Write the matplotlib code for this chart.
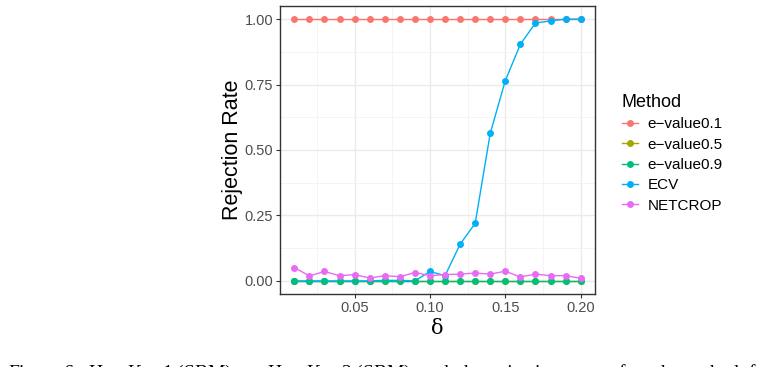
import matplotlib
matplotlib.use('Agg')
import matplotlib.pyplot as plt
from matplotlib.lines import Line2D
import numpy as np

plt.rcParams['font.family'] = ['Liberation Sans', 'DejaVu Sans']

delta = [0.01, 0.02, 0.03, 0.04, 0.05, 0.06, 0.07, 0.08, 0.09, 0.10,
         0.11, 0.12, 0.13, 0.14, 0.15, 0.16, 0.17, 0.18, 0.19, 0.20]
methods = ['e\u2212value0.1', 'e\u2212value0.5', 'e\u2212value0.9', 'ECV', 'NETCROP']
colors = ['#F8766D', '#A3A500', '#00BF7D', '#00B0F6', '#E76BF3']

evalue01 = [1.0] * 20
evalue05 = [0.0] * 20
evalue09 = [0.0] * 20
ecv = [0.0, 0.0, 0.0, 0.0, 0.0, 0.0, 0.002, 0.002, 0.0, 0.036,
       0.02, 0.14, 0.22, 0.564, 0.765, 0.904, 0.985, 0.993, 1.0, 1.0]
netcrop = [0.051, 0.019, 0.036, 0.02, 0.024, 0.011, 0.02, 0.016, 0.032, 0.02,
           0.024, 0.026, 0.03, 0.026, 0.037, 0.015, 0.026, 0.02, 0.02, 0.01]
series = [evalue01, evalue05, evalue09, ecv, netcrop]

fig = plt.figure(figsize=(7.71, 3.67), dpi=100)
ax = fig.add_axes([280 / 771, 1 - 294 / 367, 315 / 771, 288 / 367])

# lines first, then points (ggplot layer order)
for vals, c in zip(series, colors):
    ax.plot(delta, vals, color=c, lw=1.0, zorder=3)
pt_order = [0, 1, 3, 2, 4]
for i in pt_order:
    ax.plot(delta, series[i], 'o', color=colors[i], ms=5, mew=0, zorder=4)

ax.set_xlim(0.0005, 0.2095)
ax.set_ylim(-0.05, 1.05)
ax.set_xticks([0.05, 0.10, 0.15, 0.20])
ax.set_xticklabels(['0.05', '0.10', '0.15', '0.20'])
ax.set_yticks([0.0, 0.25, 0.5, 0.75, 1.0])
ax.set_yticklabels(['0.00', '0.25', '0.50', '0.75', '1.00'])
ax.set_xticks([0.025, 0.075, 0.125, 0.175], minor=True)
ax.set_yticks([0.125, 0.375, 0.625, 0.875], minor=True)

ax.grid(True, which='major', color='#EBEBEB', lw=1.0, zorder=0)
ax.grid(True, which='minor', color='#F2F2F2', lw=0.6, zorder=0)
ax.tick_params(which='major', length=3, width=0.8, color='#333333',
               labelsize=10.5, labelcolor='#4D4D4D', pad=2)
ax.tick_params(which='minor', length=0)
for s in ax.spines.values():
    s.set_color('#333333')
    s.set_linewidth(1.0)

ax.set_ylabel('Rejection Rate', fontsize=15.5, labelpad=1)
ax.set_xlabel('\u03b4', fontsize=15, family=['DejaVu Serif'], labelpad=3)

handles = [Line2D([], [], color=c, lw=1.0, marker='o', ms=5, mew=0) for c in colors]
leg = fig.legend(handles, methods, title='Method', loc='upper left',
                 bbox_to_anchor=(608 / 771, 1 - 80 / 367), frameon=False,
                 fontsize=11, title_fontsize=13, handlelength=1.05,
                 handletextpad=0.65, labelspacing=0.42, alignment='left')

# caption of the page, cut off at the lower edge as in the source image
fig.text(8 / 771, 1 - 378 / 367,
         'Figure 6:  H$_0$ : K = 1 (SBM)  vs  H$_1$ : K = 2 (SBM)  and  the  rejection  rate  of  each  method  for',
         fontsize=14, family=['Liberation Serif'], va='baseline')

fig.savefig('out.png', dpi=100)
